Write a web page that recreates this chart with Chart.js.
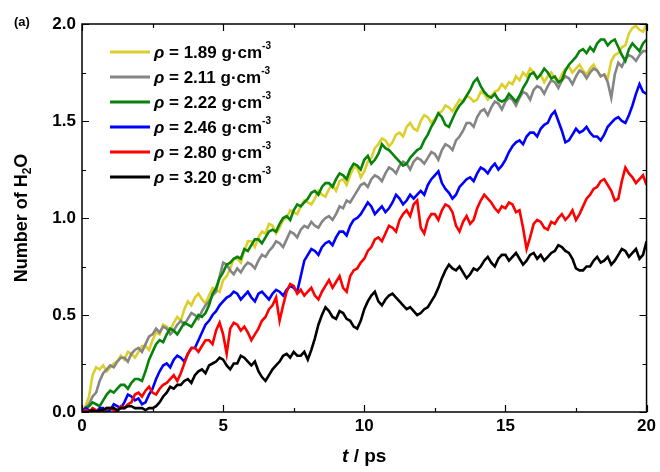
<!DOCTYPE html>
<html>
<head>
<meta charset="utf-8">
<script src="https://cdn.jsdelivr.net/npm/chart.js@4"></script>
<style>
  html, body { margin: 0; padding: 0; background: #fff; }
  #wrap { width: 660px; height: 472px; }
</style>
</head>
<body>
<div id="wrap"><canvas id="chart" width="660" height="472"></canvas></div>
<script>
// ================================
// DATA (one value every 0.125 ps, one row per ps)
// ================================
const T_STEP = 0.125;

const densities = ["1.89", "2.11", "2.22", "2.46", "2.80", "3.20"];
const colors = ["#dccf2a", "#858585", "#07820a", "#0000ff", "#ff0000", "#000000"];

const rho189 = [
  0, 0.03, 0.08, 0.19, 0.23, 0.22, 0.24, 0.21,
  0.23, 0.25, 0.26, 0.29, 0.27, 0.31, 0.30, 0.28,
  0.31, 0.34, 0.34, 0.32, 0.37, 0.41, 0.40, 0.45,
  0.44, 0.42, 0.46, 0.49, 0.47, 0.53, 0.57, 0.55,
  0.59, 0.61, 0.58, 0.56, 0.60, 0.64, 0.63, 0.62,
  0.68, 0.70, 0.74, 0.79, 0.79, 0.77, 0.83, 0.88,
  0.88, 0.85, 0.90, 0.93, 0.92, 0.97, 0.96, 0.92,
  0.95, 0.99, 1.00, 1.04, 1.03, 1.02, 1.06, 1.09,
  1.08, 1.07, 1.10, 1.14, 1.12, 1.11, 1.15, 1.17,
  1.14, 1.19, 1.20, 1.17, 1.22, 1.26, 1.26, 1.21,
  1.24, 1.29, 1.31, 1.36, 1.38, 1.41, 1.40, 1.37,
  1.39, 1.43, 1.44, 1.42, 1.47, 1.49, 1.46, 1.45,
  1.50, 1.53, 1.52, 1.49, 1.51, 1.54, 1.55, 1.58,
  1.57, 1.55, 1.58, 1.61, 1.60, 1.63, 1.62, 1.60,
  1.61, 1.65, 1.64, 1.61, 1.63, 1.65, 1.66, 1.69,
  1.67, 1.70, 1.69, 1.73, 1.71, 1.75, 1.73, 1.77,
  1.75, 1.72, 1.74, 1.70, 1.73, 1.75, 1.72, 1.70,
  1.74, 1.77, 1.78, 1.75, 1.77, 1.79, 1.76, 1.74,
  1.77, 1.79, 1.76, 1.73, 1.74, 1.72, 1.81, 1.84,
  1.85, 1.88, 1.89, 1.95, 1.98, 1.99, 1.97, 1.96,
  2.00];

const rho211 = [
  0, 0.02, 0.04, 0.08, 0.10, 0.16, 0.20, 0.22,
  0.24, 0.23, 0.26, 0.28, 0.28, 0.26, 0.30, 0.32,
  0.33, 0.31, 0.35, 0.39, 0.40, 0.43, 0.41, 0.44,
  0.43, 0.40, 0.42, 0.45, 0.47, 0.45, 0.48, 0.51,
  0.50, 0.48, 0.52, 0.55, 0.57, 0.60, 0.62, 0.70,
  0.77, 0.76, 0.73, 0.71, 0.74, 0.72, 0.75, 0.77,
  0.76, 0.74, 0.78, 0.81, 0.80, 0.83, 0.85, 0.88,
  0.87, 0.85, 0.89, 0.93, 0.92, 0.90, 0.94, 0.96,
  0.95, 0.98, 0.96, 0.95, 0.98, 1.00, 1.01, 0.99,
  1.02, 1.06, 1.05, 1.09, 1.08, 1.11, 1.14, 1.17,
  1.18, 1.16, 1.20, 1.22, 1.21, 1.19, 1.23, 1.26,
  1.25, 1.23, 1.27, 1.29, 1.28, 1.25, 1.29, 1.31,
  1.30, 1.28, 1.31, 1.34, 1.33, 1.30, 1.35, 1.38,
  1.37, 1.35, 1.40, 1.42, 1.45, 1.49, 1.49, 1.47,
  1.52, 1.55, 1.56, 1.53, 1.57, 1.60, 1.59, 1.56,
  1.60, 1.62, 1.61, 1.58, 1.62, 1.65, 1.64, 1.61,
  1.66, 1.68, 1.67, 1.64, 1.68, 1.71, 1.70, 1.67,
  1.71, 1.73, 1.72, 1.69, 1.73, 1.76, 1.75, 1.72,
  1.75, 1.77, 1.76, 1.73, 1.74, 1.70, 1.62, 1.74,
  1.80, 1.78, 1.82, 1.84, 1.83, 1.81, 1.84, 1.86,
  1.86];

const rho222 = [
  0, 0.02, 0.03, 0.05, 0.04, 0.03, 0.06, 0.09,
  0.11, 0.10, 0.12, 0.14, 0.14, 0.12, 0.15, 0.17,
  0.17, 0.16, 0.21, 0.27, 0.31, 0.35, 0.37, 0.36,
  0.40, 0.43, 0.42, 0.40, 0.43, 0.46, 0.45, 0.44,
  0.47, 0.50, 0.49, 0.51, 0.55, 0.61, 0.64, 0.69,
  0.72, 0.76, 0.77, 0.79, 0.80, 0.79, 0.84, 0.83,
  0.86, 0.89, 0.89, 0.87, 0.90, 0.93, 0.94, 0.93,
  0.97, 1.00, 1.01, 0.99, 1.04, 1.07, 1.06, 1.08,
  1.10, 1.13, 1.14, 1.12, 1.16, 1.18, 1.18, 1.16,
  1.20, 1.23, 1.22, 1.20, 1.25, 1.28, 1.27, 1.25,
  1.30, 1.32, 1.28, 1.30, 1.33, 1.38, 1.36, 1.35,
  1.33, 1.31, 1.29, 1.27, 1.28, 1.31, 1.33, 1.35,
  1.36, 1.40, 1.43, 1.47, 1.50, 1.54, 1.52, 1.48,
  1.47, 1.51, 1.55, 1.58, 1.60, 1.63, 1.66, 1.70,
  1.72, 1.68, 1.65, 1.63, 1.62, 1.64, 1.61, 1.60,
  1.61, 1.64, 1.62, 1.60, 1.63, 1.67, 1.70, 1.74,
  1.75, 1.72, 1.74, 1.77, 1.75, 1.72, 1.73, 1.70,
  1.71, 1.76, 1.79, 1.81, 1.83, 1.86, 1.87, 1.85,
  1.88, 1.86, 1.90, 1.92, 1.92, 1.89, 1.91, 1.92,
  1.88, 1.84, 1.81, 1.87, 1.90, 1.88, 1.86, 1.90,
  1.92];

const rho246 = [
  0, 0.02, 0.01, 0.00, 0.00, 0.02, 0.02, 0.00,
  0.01, 0.04, 0.03, 0.02, 0.05, 0.09, 0.08, 0.06,
  0.07, 0.04, 0.05, 0.09, 0.12, 0.17, 0.21, 0.24,
  0.25, 0.23, 0.27, 0.29, 0.28, 0.26, 0.30, 0.33,
  0.33, 0.37, 0.41, 0.45, 0.47, 0.50, 0.52, 0.55,
  0.57, 0.59, 0.60, 0.62, 0.61, 0.58, 0.60, 0.62,
  0.59, 0.57, 0.61, 0.62, 0.60, 0.58, 0.61, 0.63,
  0.62, 0.60, 0.63, 0.65, 0.64, 0.62, 0.70, 0.78,
  0.81, 0.84, 0.83, 0.81, 0.85, 0.87, 0.88, 0.86,
  0.90, 0.93, 0.93, 0.91, 0.96, 0.99, 1.00, 1.02,
  1.05, 1.08, 1.06, 1.02, 1.04, 1.06, 1.03, 1.05,
  1.08, 1.12, 1.10, 1.07, 1.09, 1.12, 1.10, 1.12,
  1.14, 1.12, 1.17, 1.20, 1.22, 1.24, 1.18, 1.15,
  1.13, 1.10, 1.12, 1.16, 1.18, 1.20, 1.21, 1.19,
  1.23, 1.26, 1.25, 1.23, 1.26, 1.28, 1.25, 1.27,
  1.30, 1.34, 1.37, 1.39, 1.40, 1.38, 1.42, 1.44,
  1.44, 1.42, 1.46, 1.48, 1.49, 1.53, 1.55, 1.50,
  1.45, 1.39, 1.40, 1.43, 1.46, 1.44, 1.45, 1.47,
  1.44, 1.42, 1.42, 1.40, 1.43, 1.47, 1.49, 1.51,
  1.52, 1.50, 1.49, 1.53, 1.58, 1.64, 1.69, 1.65,
  1.64];

const rho280 = [
  0, 0.01, 0.00, 0.02, 0.01, 0.00, 0.00, 0.02,
  0.02, 0.01, 0.00, 0.03, 0.02, 0.04, 0.05, 0.09,
  0.10, 0.08, 0.11, 0.13, 0.10, 0.09, 0.12, 0.14,
  0.15, 0.17, 0.19, 0.16, 0.20, 0.25, 0.30, 0.33,
  0.33, 0.31, 0.34, 0.37, 0.37, 0.35, 0.42, 0.46,
  0.40, 0.30, 0.43, 0.46, 0.45, 0.42, 0.44, 0.41,
  0.37, 0.40, 0.43, 0.47, 0.49, 0.53, 0.55, 0.59,
  0.47, 0.55, 0.62, 0.66, 0.65, 0.61, 0.63, 0.60,
  0.62, 0.64, 0.60, 0.58, 0.62, 0.65, 0.68, 0.64,
  0.67, 0.70, 0.64, 0.62, 0.70, 0.73, 0.74, 0.77,
  0.79, 0.83, 0.85, 0.89, 0.90, 0.88, 0.92, 0.96,
  0.95, 0.93, 0.99, 1.02, 1.04, 1.01, 1.07, 1.09,
  0.95, 0.92, 0.99, 1.02, 1.02, 0.99, 1.04, 1.07,
  1.06, 1.03, 0.96, 0.93, 0.98, 1.01, 0.97, 0.99,
  1.05, 1.09, 1.12, 1.10, 1.08, 1.05, 1.03, 1.06,
  1.05, 1.08, 1.07, 1.03, 1.04, 0.95, 0.84, 0.90,
  0.97, 0.99, 0.98, 0.95, 0.94, 0.98, 0.97, 1.00,
  1.02, 0.99, 1.01, 1.04, 0.99, 1.02, 1.06, 1.10,
  1.12, 1.15, 1.16, 1.19, 1.20, 1.17, 1.14, 1.09,
  1.10, 1.19, 1.26, 1.23, 1.21, 1.18, 1.20, 1.22,
  1.17];

const rho320 = [
  0, 0.00, 0.00, 0.01, 0.00, 0.01, 0.01, 0.02,
  0.02, 0.02, 0.01, 0.02, 0.02, 0.03, 0.03, 0.02,
  0.02, 0.02, 0.01, 0.02, 0.02, 0.03, 0.05, 0.08,
  0.10, 0.13, 0.12, 0.14, 0.14, 0.16, 0.17, 0.15,
  0.19, 0.21, 0.22, 0.20, 0.24, 0.25, 0.26, 0.28,
  0.27, 0.24, 0.22, 0.25, 0.25, 0.29, 0.28, 0.26,
  0.24, 0.26, 0.21, 0.18, 0.16, 0.19, 0.22, 0.24,
  0.26, 0.29, 0.30, 0.28, 0.31, 0.29, 0.29, 0.31,
  0.27, 0.32, 0.38, 0.45, 0.50, 0.54, 0.52, 0.49,
  0.48, 0.52, 0.51, 0.48, 0.47, 0.44, 0.43, 0.47,
  0.53, 0.57, 0.60, 0.62, 0.57, 0.55, 0.58, 0.60,
  0.61, 0.59, 0.57, 0.55, 0.53, 0.54, 0.52, 0.50,
  0.51, 0.53, 0.54, 0.57, 0.60, 0.64, 0.69, 0.73,
  0.76, 0.74, 0.73, 0.75, 0.72, 0.69, 0.71, 0.74,
  0.73, 0.75, 0.78, 0.80, 0.77, 0.75, 0.79, 0.81,
  0.81, 0.78, 0.80, 0.82, 0.79, 0.76, 0.78, 0.81,
  0.82, 0.79, 0.81, 0.78, 0.80, 0.82, 0.83, 0.86,
  0.85, 0.83, 0.82, 0.79, 0.74, 0.73, 0.73, 0.75,
  0.75, 0.78, 0.80, 0.77, 0.78, 0.80, 0.76, 0.78,
  0.81, 0.84, 0.83, 0.80, 0.82, 0.84, 0.79, 0.81,
  0.88];

const seriesValues = [rho189, rho211, rho222, rho246, rho280, rho320];

const xMajor = [0, 5, 10, 15, 20];
const xMinor = [2.5, 7.5, 12.5, 17.5];
const yMajor = [0, 0.5, 1.0, 1.5, 2.0];
const yMinor = [0.25, 0.75, 1.25, 1.75];

const FONT = "'Liberation Sans', Arial, sans-serif";

// ================================
// DECORATIONS (frame, inward ticks, titles, legend)
// ================================
const decorations = {
  id: "decorations",
  afterDatasetsDraw(chart) {
    const ctx = chart.ctx;
    const a = chart.chartArea;
    const xs = chart.scales.x, ys = chart.scales.y;

    ctx.save();
    ctx.strokeStyle = "#000";
    ctx.lineWidth = 1.5;
    ctx.strokeRect(a.left, a.top, a.right - a.left, a.bottom - a.top);

    ctx.lineWidth = 1.2;
    ctx.beginPath();
    const xt = (vals, len) => vals.forEach(v => {
      const p = Math.round(xs.getPixelForValue(v)) + 0.5;
      ctx.moveTo(p, a.bottom); ctx.lineTo(p, a.bottom - len);
      ctx.moveTo(p, a.top); ctx.lineTo(p, a.top + len);
    });
    const yt = (vals, len) => vals.forEach(v => {
      const p = Math.round(ys.getPixelForValue(v)) + 0.5;
      ctx.moveTo(a.left, p); ctx.lineTo(a.left + len, p);
      ctx.moveTo(a.right, p); ctx.lineTo(a.right - len, p);
    });
    xt(xMajor, 7); xt(xMinor, 4);
    yt(yMajor, 7); yt(yMinor, 4);
    ctx.stroke();

    ctx.fillStyle = "#000";

    // panel label
    ctx.font = "bold 13px " + FONT;
    ctx.textAlign = "left";
    ctx.textBaseline = "middle";
    ctx.fillText("(a)", 14, 22);

    // x title: italic t / ps
    ctx.font = "italic bold 19px " + FONT;
    const tW = ctx.measureText("t").width;
    ctx.font = "bold 19px " + FONT;
    const restW = ctx.measureText(" / ps").width;
    let x0 = (a.left + a.right) / 2 - (tW + restW) / 2;
    ctx.font = "italic bold 19px " + FONT;
    ctx.fillText("t", x0, 457);
    ctx.font = "bold 19px " + FONT;
    ctx.fillText(" / ps", x0 + tW, 457);

    // y title: Number of H2O
    ctx.save();
    ctx.translate(22, (a.top + a.bottom) / 2);
    ctx.rotate(-Math.PI / 2);
    ctx.font = "bold 18px " + FONT;
    const w1 = ctx.measureText("Number of H").width;
    const wO = ctx.measureText("O").width;
    ctx.font = "bold 12px " + FONT;
    const w2 = ctx.measureText("2").width;
    let sx = -(w1 + w2 + wO) / 2;
    ctx.font = "bold 18px " + FONT;
    ctx.fillText("Number of H", sx, 0);
    ctx.font = "bold 12px " + FONT;
    ctx.fillText("2", sx + w1, 6);
    ctx.font = "bold 18px " + FONT;
    ctx.fillText("O", sx + w1 + w2, 0);
    ctx.restore();

    // legend
    densities.forEach((d, i) => {
      const y = 52 + i * 25;
      ctx.strokeStyle = colors[i];
      ctx.lineWidth = 3;
      ctx.beginPath();
      ctx.moveTo(110, y); ctx.lineTo(150, y);
      ctx.stroke();

      let tx = 154;
      ctx.font = "italic bold 17px " + FONT;
      ctx.fillText("\u03c1", tx, y + 1);
      tx += ctx.measureText("\u03c1").width;
      ctx.font = "bold 17px " + FONT;
      const s = " = " + d + " g\u00b7cm";
      ctx.fillText(s, tx, y + 1);
      tx += ctx.measureText(s).width;
      ctx.font = "bold 10px " + FONT;
      ctx.fillText("-3", tx, y - 6);
    });
    ctx.restore();
  }
};

// ================================
// BUILD CHART
// ================================
const datasets = seriesValues.map((vals, i) => ({
  label: "\u03c1 = " + densities[i] + " g\u00b7cm-3",
  data: vals.map((v, k) => ({ x: k * T_STEP, y: v })),
  borderColor: colors[i],
  borderWidth: 2.6,
  pointRadius: 0,
  tension: 0,
  fill: false,
  order: seriesValues.length - i
}));

new Chart(document.getElementById("chart"), {
  type: "line",
  data: { datasets },
  options: {
    responsive: false,
    animation: false,
    devicePixelRatio: 1,
    layout: { padding: { left: 0, top: 24, right: 11, bottom: 0 } },
    plugins: { legend: { display: false }, tooltip: { enabled: false } },
    scales: {
      x: {
        type: "linear",
        min: 0, max: 20,
        grid: { display: false, drawTicks: false },
        border: { display: false },
        afterFit: s => { s.height = 60; },
        afterBuildTicks: s => { s.ticks = xMajor.map(v => ({ value: v })); },
        ticks: {
          padding: 4,
          color: "#000",
          font: { family: FONT, size: 17, weight: "bold" },
          callback: v => String(v)
        }
      },
      y: {
        min: 0, max: 2,
        grid: { display: false, drawTicks: false },
        border: { display: false },
        afterFit: s => { s.width = 82; },
        afterBuildTicks: s => { s.ticks = yMajor.map(v => ({ value: v })); },
        ticks: {
          padding: 6,
          color: "#000",
          font: { family: FONT, size: 17, weight: "bold" },
          callback: v => Number(v).toFixed(1)
        }
      }
    }
  },
  plugins: [decorations]
});
</script>
</body>
</html>
